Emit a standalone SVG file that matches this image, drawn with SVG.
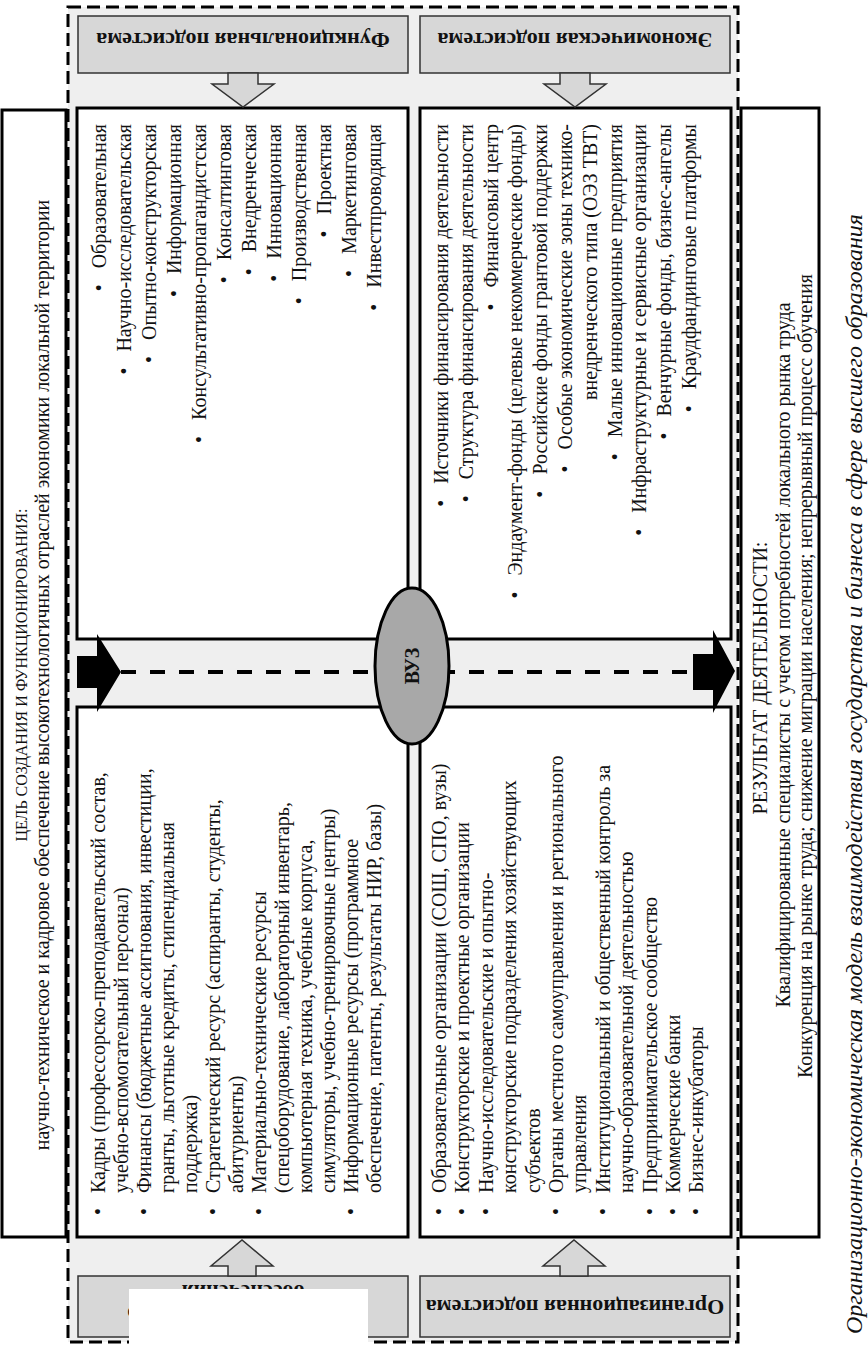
<svg xmlns="http://www.w3.org/2000/svg" width="868" height="1348" viewBox="0 0 868 1348">
<style>
.t{font-family:"Liberation Serif","Times New Roman",serif;font-size:20px;fill:#111}
.cap{font-size:16px}
.it{font-style:italic;font-size:24px}
.lb{font-family:"Liberation Serif","Times New Roman",serif;font-size:22px;font-weight:bold;fill:#111}
.box{fill:#fff;stroke:#000;stroke-width:3}
.lbox{fill:#d7d7d7;stroke:#333;stroke-width:1.5}
.garrow{fill:#d7d7d7;stroke:#333;stroke-width:1.5}
.barrow{fill:#000}
</style>
<rect width="868" height="1348" fill="#fff"/>
<rect id="frame" x="68" y="7" width="670" height="1335" fill="#efefef" stroke="#000" stroke-width="3" stroke-dasharray="13 6"/>

<g id="goal-box">
<rect class="box" x="2" y="110" width="64" height="1127"/>
<text class="t cap" text-anchor="middle" transform="translate(27,675) rotate(-90)">ЦЕЛЬ СОЗДАНИЯ И ФУНКЦИОНИРОВАНИЯ:</text>
<text class="t" text-anchor="middle" transform="translate(49,675) rotate(-90)">научно-техническое и кадровое обеспечение высокотехнологичных отраслей экономики локальной территории</text>
</g>

<g id="result-box">
<rect class="box" x="741" y="108" width="78" height="1129"/>
<text class="t" text-anchor="middle" transform="translate(767,678) rotate(-90)">РЕЗУЛЬТАТ ДЕЯТЕЛЬНОСТИ:</text>
<text class="t" text-anchor="middle" transform="translate(790,655) rotate(-90)">Квалифицированные специалисты с учетом потребностей локального рынка труда</text>
<text class="t" text-anchor="middle" transform="translate(812,676) rotate(-90)">Конкуренция на рынке труда; снижение миграции населения; непрерывный процесс обучения</text>
</g>

<g id="functional-subsystem">
<rect class="lbox" x="78" y="16" width="330" height="57"/>
<text class="lb" text-anchor="middle" transform="translate(243,33) rotate(180)">Функциональная подсистема</text>
</g>
<g id="economic-subsystem">
<rect class="lbox" x="420" y="16" width="310" height="57"/>
<text class="lb" text-anchor="middle" transform="translate(575,33) rotate(180)">Экономическая подсистема</text>
</g>
<g id="resource-subsystem">
<rect class="lbox" x="78" y="1276" width="330" height="61"/>
<text class="lb" text-anchor="middle" transform="translate(243,1307) rotate(180)">Подсистема ресурсного<tspan x="0" dy="22">обеспечения</tspan></text>
</g>
<g id="organizational-subsystem">
<rect class="lbox" x="420" y="1276" width="310" height="61"/>
<text class="lb" text-anchor="middle" transform="translate(575,1300) rotate(180)">Организационная подсистема</text>
</g>

<g id="functional-list">
<rect class="box" x="77" y="108" width="331" height="531"/>
<text class="t" text-anchor="end" transform="translate(106,124) rotate(-90)">•<tspan dx="16">Образовательная</tspan></text>
<text class="t" text-anchor="end" transform="translate(131,124) rotate(-90)">•<tspan dx="16">Научно-исследовательская</tspan></text>
<text class="t" text-anchor="end" transform="translate(156,124) rotate(-90)">•<tspan dx="16">Опытно-конструкторская</tspan></text>
<text class="t" text-anchor="end" transform="translate(181,124) rotate(-90)">•<tspan dx="16">Информационная</tspan></text>
<text class="t" text-anchor="end" transform="translate(206,124) rotate(-90)">•<tspan dx="16">Консультативно-пропагандистская</tspan></text>
<text class="t" text-anchor="end" transform="translate(231,124) rotate(-90)">•<tspan dx="16">Консалтинговая</tspan></text>
<text class="t" text-anchor="end" transform="translate(256,124) rotate(-90)">•<tspan dx="16">Внедренческая</tspan></text>
<text class="t" text-anchor="end" transform="translate(281,124) rotate(-90)">•<tspan dx="16">Инновационная</tspan></text>
<text class="t" text-anchor="end" transform="translate(306,124) rotate(-90)">•<tspan dx="16">Производственная</tspan></text>
<text class="t" text-anchor="end" transform="translate(331,124) rotate(-90)">•<tspan dx="16">Проектная</tspan></text>
<text class="t" text-anchor="end" transform="translate(356,124) rotate(-90)">•<tspan dx="16">Маркетинговая</tspan></text>
<text class="t" text-anchor="end" transform="translate(381,124) rotate(-90)">•<tspan dx="16">Инвестпроводящая</tspan></text>
</g>

<g id="economic-list">
<rect class="box" x="420" y="108" width="311" height="531"/>
<text class="t" text-anchor="end" transform="translate(448,124) rotate(-90)">•<tspan dx="16">Источники финансирования деятельности</tspan></text>
<text class="t" text-anchor="end" transform="translate(473,124) rotate(-90)">•<tspan dx="16">Структура финансирования деятельности</tspan></text>
<text class="t" text-anchor="end" transform="translate(498,124) rotate(-90)">•<tspan dx="16">Финансовый центр</tspan></text>
<text class="t" text-anchor="end" transform="translate(522,124) rotate(-90)">•<tspan dx="16">Эндаумент-фонды (целевые некоммерческие фонды)</tspan></text>
<text class="t" text-anchor="end" transform="translate(547,124) rotate(-90)">•<tspan dx="16">Российские фонды грантовой поддержки</tspan></text>
<text class="t" text-anchor="end" transform="translate(572,124) rotate(-90)">•<tspan dx="16">Особые экономические зоны технико-</tspan></text>
<text class="t" text-anchor="end" transform="translate(597,124) rotate(-90)">внедренческого типа (ОЭЗ ТВТ)</text>
<text class="t" text-anchor="end" transform="translate(622,124) rotate(-90)">•<tspan dx="16">Малые инновационные предприятия</tspan></text>
<text class="t" text-anchor="end" transform="translate(646,124) rotate(-90)">•<tspan dx="16">Инфраструктурные и сервисные организации</tspan></text>
<text class="t" text-anchor="end" transform="translate(671,124) rotate(-90)">•<tspan dx="16">Венчурные фонды, бизнес-ангелы</tspan></text>
<text class="t" text-anchor="end" transform="translate(696,124) rotate(-90)">•<tspan dx="16">Краудфандинговые платформы</tspan></text>
</g>

<g id="resources-list">
<rect class="box" x="77" y="707" width="331" height="530"/>
<text class="t" transform="translate(105,1193) rotate(-90)"><tspan x="-22">•</tspan><tspan x="0">Кадры (профессорско-преподавательский состав,</tspan></text>
<text class="t" transform="translate(128,1193) rotate(-90)">учебно-вспомогательный персонал)</text>
<text class="t" transform="translate(151,1193) rotate(-90)"><tspan x="-22">•</tspan><tspan x="0">Финансы (бюджетные ассигнования, инвестиции,</tspan></text>
<text class="t" transform="translate(174,1193) rotate(-90)">гранты, льготные кредиты, стипендиальная</text>
<text class="t" transform="translate(197,1193) rotate(-90)">поддержка)</text>
<text class="t" transform="translate(220,1193) rotate(-90)"><tspan x="-22">•</tspan><tspan x="0">Стратегический ресурс (аспиранты, студенты,</tspan></text>
<text class="t" transform="translate(243,1193) rotate(-90)">абитуриенты)</text>
<text class="t" transform="translate(266,1193) rotate(-90)"><tspan x="-22">•</tspan><tspan x="0">Материально-технические ресурсы</tspan></text>
<text class="t" transform="translate(289,1193) rotate(-90)">(спецоборудование, лабораторный инвентарь,</text>
<text class="t" transform="translate(312,1193) rotate(-90)">компьютерная техника, учебные корпуса,</text>
<text class="t" transform="translate(335,1193) rotate(-90)">симуляторы, учебно-тренировочные центры)</text>
<text class="t" transform="translate(358,1193) rotate(-90)"><tspan x="-22">•</tspan><tspan x="0">Информационные ресурсы (программное</tspan></text>
<text class="t" transform="translate(381,1193) rotate(-90)">обеспечение, патенты, результаты НИР, базы)</text>
</g>

<g id="organizations-list">
<rect class="box" x="420" y="707" width="311" height="530"/>
<text class="t" transform="translate(446,1193) rotate(-90)"><tspan x="-22">•</tspan><tspan x="0">Образовательные организации (СОШ, СПО, вузы)</tspan></text>
<text class="t" transform="translate(469,1193) rotate(-90)"><tspan x="-22">•</tspan><tspan x="0">Конструкторские и проектные организации</tspan></text>
<text class="t" transform="translate(493,1193) rotate(-90)"><tspan x="-22">•</tspan><tspan x="0">Научно-исследовательские и опытно-</tspan></text>
<text class="t" transform="translate(516,1193) rotate(-90)">конструкторские подразделения хозяйствующих</text>
<text class="t" transform="translate(540,1193) rotate(-90)">субъектов</text>
<text class="t" transform="translate(563,1193) rotate(-90)"><tspan x="-22">•</tspan><tspan x="0">Органы местного самоуправления и регионального</tspan></text>
<text class="t" transform="translate(586,1193) rotate(-90)">управления</text>
<text class="t" transform="translate(610,1193) rotate(-90)"><tspan x="-22">•</tspan><tspan x="0">Институциональный и общественный контроль за</tspan></text>
<text class="t" transform="translate(633,1193) rotate(-90)">научно-образовательной деятельностью</text>
<text class="t" transform="translate(657,1193) rotate(-90)"><tspan x="-22">•</tspan><tspan x="0">Предпринимательское сообщество</tspan></text>
<text class="t" transform="translate(680,1193) rotate(-90)"><tspan x="-22">•</tspan><tspan x="0">Коммерческие банки</tspan></text>
<text class="t" transform="translate(703,1193) rotate(-90)"><tspan x="-22">•</tspan><tspan x="0">Бизнес-инкубаторы</tspan></text>
</g>

<g id="connectors">
<polygon class="garrow" points="228,73 258,73 258,84 274,84 243,107 212,84 228,84"/>
<polygon class="garrow" points="560,73 590,73 590,84 606,84 575,107 544,84 560,84"/>
<polygon class="garrow" points="228,1276 256,1276 256,1266 273,1266 242,1240 211,1266 228,1266"/>
<polygon class="garrow" points="560,1276 588,1276 588,1266 605,1266 574,1240 543,1266 560,1266"/>
<line x1="121" y1="672" x2="693" y2="672" stroke="#000" stroke-width="4" stroke-dasharray="15 14"/>
<polygon class="barrow" points="77,656 97,656 97,634 121,672 97,712 97,688 77,688"/>
<polygon class="barrow" points="693,654 713,654 713,630 735,671 713,713 713,690 693,690"/>
</g>

<g id="vuz">
<ellipse cx="412" cy="666" rx="37" ry="78" fill="#a8a8a8" stroke="#000" stroke-width="3"/>
<text class="t" font-weight="bold" text-anchor="middle" transform="translate(419,666) rotate(-90)">ВУЗ</text>
</g>

<g id="caption">
<text class="t it" textLength="1120" lengthAdjust="spacing" transform="translate(862,1334) rotate(-90)">Организационно-экономическая модель взаимодействия государства и бизнеса в сфере высшего образования</text>
</g>

<rect id="cover" x="129" y="1289" width="239" height="59" fill="#fff"/>
</svg>
